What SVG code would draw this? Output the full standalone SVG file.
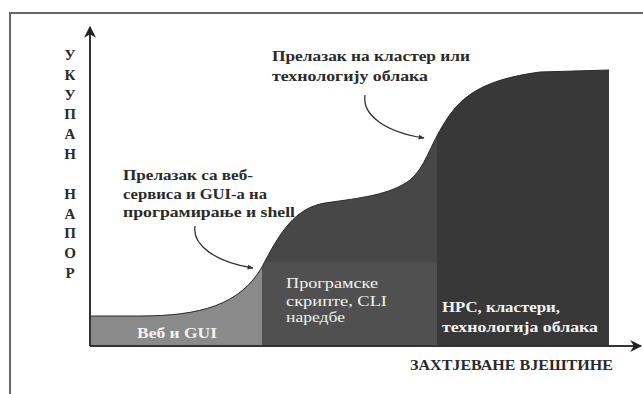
<svg xmlns="http://www.w3.org/2000/svg" width="643" height="394" viewBox="0 0 643 394">
<style>
.ax{font-family:"Liberation Serif","DejaVu Serif",serif;font-weight:bold;font-size:15px;fill:#2a2a2a;text-anchor:middle}
.note{font-family:"Liberation Serif","DejaVu Serif",serif;font-weight:bold;font-size:14px;fill:#2a2a2a}
.lbl{font-family:"Liberation Serif","DejaVu Serif",serif;font-size:14px;fill:#f2f2f2}
.lblb{font-family:"Liberation Serif","DejaVu Serif",serif;font-weight:bold;font-size:14px;fill:#f2f2f2}
.axis{stroke:#333;stroke-width:2;fill:none}
.conn{stroke:#333;stroke-width:1.3;fill:none}
</style>
<defs>
<marker id="ah" viewBox="0 0 10 10" refX="9" refY="5" markerWidth="6" markerHeight="6" orient="auto" markerUnits="userSpaceOnUse">
<path d="M0,1 L10,5 L0,9 Z" fill="#333"/>
</marker>
<marker id="axh" viewBox="0 0 10 10" refX="9" refY="5" markerWidth="12" markerHeight="14" orient="auto" markerUnits="userSpaceOnUse">
<path d="M0,0 L10,5 L0,10 L3,5 Z" fill="#222"/>
</marker>
<clipPath id="area">
<path d="M90,316 L140,316 C200,316 240,305 262,267 C280,232 295,208 325,203 C360,198 390,195 410,180 C425,168 430,145 445,122 C460,98 480,80 540,72 L609,70 L609,346 L90,346 Z"/>
</clipPath>
</defs>
<rect width="643" height="394" fill="#fff"/>
<g id="frame">
<path d="M10,394 L10,13 L643,13" stroke="#666" stroke-width="2" fill="none"/>
</g>
<g id="region-web" clip-path="url(#area)">
<rect x="90" y="60" width="172" height="286" fill="#8a8a8a"/>
</g>
<g id="region-scripts" clip-path="url(#area)">
<rect x="262" y="60" width="175" height="202" fill="#474747"/>
<rect x="262" y="262" width="175" height="84" fill="#505050"/>
</g>
<g id="region-hpc" clip-path="url(#area)">
<rect x="437" y="60" width="172" height="286" fill="#383838"/>
</g>
<path d="M90,316 L140,316 C200,316 240,305 262,267 C280,232 295,208 325,203 C360,198 390,195 410,180 C425,168 430,145 445,122 C460,98 480,80 540,72 L609,70" stroke="#2a2a2a" stroke-width="1" fill="none"/>
<g id="connectors">
<path class="axis" d="M90,346 L90,27" marker-end="url(#axh)"/>
<path class="axis" d="M90,346 L641,346" marker-end="url(#axh)"/>
<path class="conn" d="M195,226 C192,245 215,262 253,268" marker-end="url(#ah)"/>
<path class="conn" d="M365,95 C362,115 385,132 424,138" marker-end="url(#ah)"/>
</g>
<g id="y-label">
<text class="ax" x="70" y="60">У</text>
<text class="ax" x="70" y="80">К</text>
<text class="ax" x="70" y="100">У</text>
<text class="ax" x="70" y="119">П</text>
<text class="ax" x="70" y="139">А</text>
<text class="ax" x="70" y="159">Н</text>
<text class="ax" x="70" y="199">Н</text>
<text class="ax" x="70" y="219">А</text>
<text class="ax" x="70" y="238">П</text>
<text class="ax" x="70" y="258">О</text>
<text class="ax" x="70" y="278">Р</text>
</g>
<g id="x-label">
<text class="note" x="410" y="370" textLength="203" lengthAdjust="spacingAndGlyphs">ЗАХТЈЕВАНЕ ВЈЕШТИНЕ</text>
</g>
<g id="note-shell">
<text class="note" x="123" y="180" textLength="130" lengthAdjust="spacingAndGlyphs">Прелазак са веб-</text>
<text class="note" x="123" y="199" textLength="144" lengthAdjust="spacingAndGlyphs">сервиса и GUI-а на</text>
<text class="note" x="123" y="217" textLength="172" lengthAdjust="spacingAndGlyphs">програмирање и shell</text>
</g>
<g id="note-cloud">
<text class="note" x="272" y="61" textLength="198" lengthAdjust="spacingAndGlyphs">Прелазак на кластер или</text>
<text class="note" x="272" y="81" textLength="156" lengthAdjust="spacingAndGlyphs">технологију облака</text>
</g>
<g id="label-web">
<text class="lblb" x="137" y="338" textLength="80" lengthAdjust="spacingAndGlyphs">Веб и GUI</text>
</g>
<g id="label-scripts">
<text class="lbl" x="286" y="288" textLength="92" lengthAdjust="spacingAndGlyphs">Програмске</text>
<text class="lbl" x="286" y="306" textLength="101" lengthAdjust="spacingAndGlyphs">скрипте, CLI</text>
<text class="lbl" x="286" y="322" textLength="59" lengthAdjust="spacingAndGlyphs">наредбе</text>
</g>
<g id="label-hpc">
<text class="lblb" x="442" y="312" textLength="118" lengthAdjust="spacingAndGlyphs">HPC, кластери,</text>
<text class="lblb" x="442" y="332" textLength="156" lengthAdjust="spacingAndGlyphs">технологија облака</text>
</g>
</svg>
